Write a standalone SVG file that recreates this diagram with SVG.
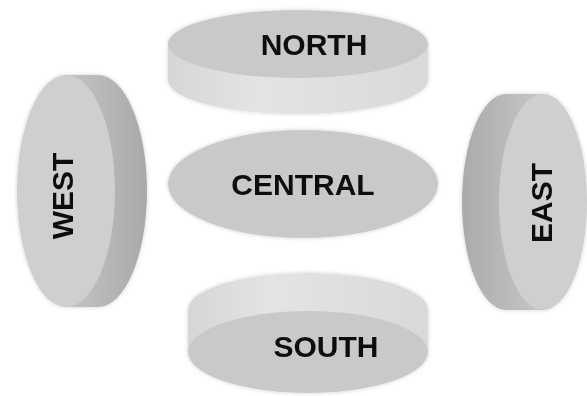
<svg xmlns="http://www.w3.org/2000/svg" width="587" height="396" viewBox="0 0 587 396">
  <defs>
    <linearGradient id="bandLight" x1="0" y1="0" x2="1" y2="0">
      <stop offset="0" stop-color="#d6d6d6"/>
      <stop offset="0.35" stop-color="#e4e4e4"/>
      <stop offset="1" stop-color="#d9d9d9"/>
    </linearGradient>
    <linearGradient id="bandWest" x1="0" y1="0" x2="1" y2="0">
      <stop offset="0" stop-color="#c4c4c4"/>
      <stop offset="1" stop-color="#a9a9a9"/>
    </linearGradient>
    <linearGradient id="bandEast" x1="0" y1="0" x2="1" y2="0">
      <stop offset="0" stop-color="#ababab"/>
      <stop offset="1" stop-color="#c6c6c6"/>
    </linearGradient>
    <filter id="soft" x="-10%" y="-10%" width="120%" height="120%">
      <feGaussianBlur in="SourceAlpha" stdDeviation="2"/>
      <feComponentTransfer><feFuncA type="linear" slope="0.18"/></feComponentTransfer>
      <feMerge><feMergeNode/><feMergeNode in="SourceGraphic"/></feMerge>
    </filter>
  </defs>
  <style>
    .face { fill: #c9c9c9; }
    .faceSide { fill: #cfcfcf; }
    .label { font-family: "Liberation Sans", Arial, sans-serif; font-weight: bold; font-size: 30px; fill: #111; text-anchor: middle; }
  </style>
  <rect width="587" height="396" fill="#ffffff"/>

  <!-- north disc: top face with rim below -->
  <g id="north" filter="url(#soft)">
    <path d="M168,44 L168,80 A130,34 0 0 0 428,80 L428,44 Z" fill="url(#bandLight)"/>
    <ellipse class="face" cx="298" cy="44" rx="130" ry="34"/>
    <text class="label" x="314" y="55" font-size="31">NORTH</text>
  </g>

  <!-- west disc: face on the left, rim to the right -->
  <g id="west" filter="url(#soft)">
    <path d="M66,75 L98,75 A49,116 0 0 1 98,307 L66,307 Z" fill="url(#bandWest)"/>
    <ellipse class="faceSide" cx="66" cy="191" rx="49" ry="116"/>
    <text class="label" transform="translate(73,196) rotate(-90)">WEST</text>
  </g>

  <!-- central flat ellipse -->
  <g id="central" filter="url(#soft)">
    <ellipse class="face" cx="303" cy="184" rx="135" ry="54"/>
    <text class="label" x="303" y="195" font-size="31">CENTRAL</text>
  </g>

  <!-- east disc: face on the right, rim to the left -->
  <g id="east" filter="url(#soft)">
    <path d="M543,94 L506,94 A44,108 0 0 0 506,310 L543,310 Z" fill="url(#bandEast)"/>
    <ellipse class="faceSide" cx="543" cy="202" rx="44" ry="108"/>
    <text class="label" transform="translate(552,203) rotate(-90)">EAST</text>
  </g>

  <!-- south disc: rim above, face below -->
  <g id="south" filter="url(#soft)">
    <path d="M188,352 L188,310 A120,37 0 0 1 428,310 L428,352 Z" fill="url(#bandLight)"/>
    <ellipse class="face" cx="308" cy="352" rx="120" ry="41"/>
    <text class="label" x="326" y="357" font-size="31">SOUTH</text>
  </g>

  <g id="connectors"/>
</svg>
